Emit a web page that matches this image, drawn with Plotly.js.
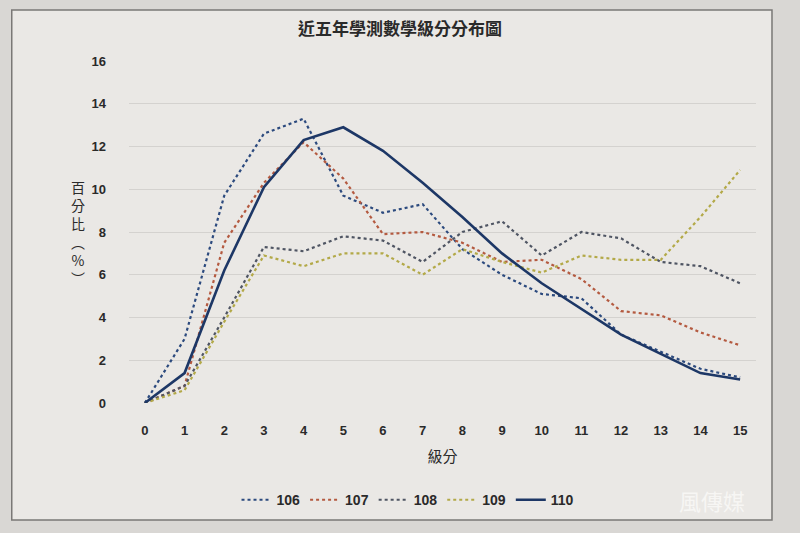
<!DOCTYPE html>
<html>
<head>
<meta charset="utf-8">
<script src="https://cdn.plot.ly/plotly-3.0.1.min.js"></script>
<style>
  body { margin: 0; background: #e6e4e1; }
  #chart { width: 800px; height: 533px; }
</style>
</head>
<body>
<div id="chart"></div>
<script>
// data
var levels = [0, 1, 2, 3, 4, 5, 6, 7, 8, 9, 10, 11, 12, 13, 14, 15];
var y106 = [0, 3.0, 9.7, 12.6, 13.3, 9.7, 8.9, 9.3, 7.2, 6.0, 5.1, 4.9, 3.2, 2.4, 1.6, 1.2];
var y107 = [0, 0.8, 7.5, 10.3, 12.2, 10.5, 7.9, 8.0, 7.5, 6.6, 6.7, 5.8, 4.3, 4.1, 3.3, 2.7];
var y108 = [0, 0.8, 4.0, 7.3, 7.1, 7.8, 7.6, 6.6, 8.0, 8.5, 6.9, 8.0, 7.7, 6.6, 6.4, 5.6];
var y109 = [0, 0.6, 3.8, 6.9, 6.4, 7.0, 7.0, 6.0, 7.2, 6.6, 6.1, 6.9, 6.7, 6.7, 8.7, 10.9];
var y110 = [0, 1.4, 6.2, 10.1, 12.3, 12.9, 11.8, 10.3, 8.7, 7.0, 5.6, 4.4, 3.2, 2.3, 1.4, 1.1];

var names = ['106', '107', '108', '109', '110'];
var series = [y106, y107, y108, y109, y110];
var colors = ['#2c4a7e', '#b45a40', '#4f5563', '#b3a948', '#1d3766'];
var dashes = ['dot', 'dot', 'dot', 'dot', 'solid'];
var widths = [2.2, 2.2, 2.2, 2.2, 2.6];

var data = [];
for (var i = 0; i < names.length; i++) {
    data.push({
        x: levels,
        y: series[i],
        name: names[i],
        type: 'scatter',
        mode: 'lines',
        line: {color: colors[i], dash: dashes[i], width: widths[i]}
    });
}

var fontFam = '"Noto Sans CJK TC", "Liberation Sans", sans-serif';

// layout
var layout = {
    width: 800,
    height: 533,
    paper_bgcolor: '#d9d7d4',
    plot_bgcolor: '#eae8e5',
    margin: {l: 129, r: 44, t: 61, b: 130},
    font: {family: fontFam, color: '#2a2a2a', size: 13},
    title: {
        text: '近五年學測數學級分分布圖',
        x: 0.5, xanchor: 'center', y: 0.945, yanchor: 'middle',
        font: {size: 17, color: '#2a2a2a', family: fontFam, weight: 'bold'}
    },
    xaxis: {
        range: [-0.4, 15.4],
        tickvals: levels,
        showgrid: false,
        zeroline: false,
        showline: false,
        ticks: '',
        ticklabelstandoff: 18,
        tickfont: {size: 13, color: '#2a2a2a', family: '"Liberation Sans", sans-serif', weight: 'bold'},
        title: {text: '級分', standoff: 14, font: {size: 15, color: '#2a2a2a', family: fontFam}}
    },
    yaxis: {
        range: [0, 16],
        dtick: 2,
        showgrid: true,
        gridcolor: '#d4d2cf',
        gridwidth: 1,
        zeroline: false,
        showline: false,
        ticks: '',
        ticklabelstandoff: 22,
        tickfont: {size: 13, color: '#2a2a2a', family: '"Liberation Sans", sans-serif', weight: 'bold'}
    },
    showlegend: true,
    legend: {
        orientation: 'h',
        x: 0.445, xanchor: 'center',
        y: -0.284, yanchor: 'middle',
        font: {size: 14, color: '#2a2a2a', family: '"Liberation Sans", sans-serif', weight: 'bold'},
        itemwidth: 30,
        tracegroupgap: 0,
        bgcolor: 'rgba(0,0,0,0)'
    },
    annotations: [{
        text: '百<br>分<br>比<br>︵<br>%<br>︶',
        xref: 'paper', yref: 'paper',
        x: -0.082, y: 0.5, xanchor: 'center', yanchor: 'middle',
        showarrow: false,
        font: {size: 14, color: '#2a2a2a', family: fontFam}
    }, {
        text: '風傳媒',
        xref: 'paper', yref: 'paper',
        x: 0.93, y: -0.284, xanchor: 'center', yanchor: 'middle',
        showarrow: false,
        font: {size: 22, color: '#f7f6f4', family: fontFam}
    }],
    shapes: [{
        type: 'rect', xref: 'paper', yref: 'paper', layer: 'below',
        x0: -0.187, x1: 1.0255, y0: -0.342, y1: 1.149,
        fillcolor: '#eae8e5',
        line: {color: '#7a7876', width: 1.5}
    }]
};

// create plot
Plotly.newPlot('chart', data, layout, {displayModeBar: false, displaylogo: false});
</script>
</body>
</html>
